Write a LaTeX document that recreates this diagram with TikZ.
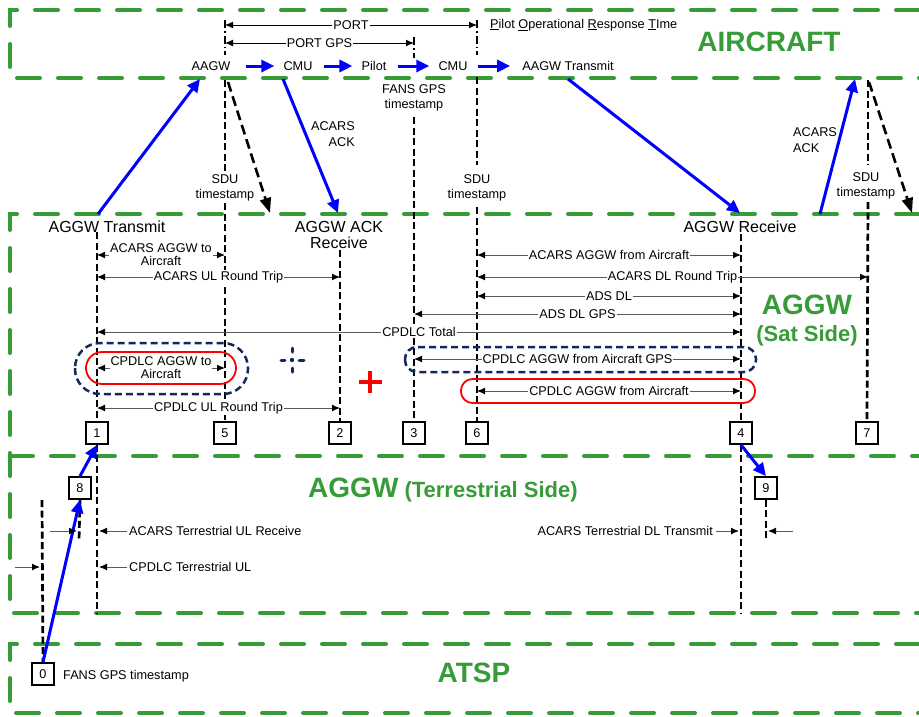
\documentclass[tikz,border=0pt]{standalone}
\usepackage{fontspec}
\setmainfont{Liberation Sans}
\usetikzlibrary{arrows.meta}
\definecolor{grn}{RGB}{55,155,55}
\definecolor{navy}{RGB}{20,40,95}
\begin{document}
\begin{tikzpicture}[x=1pt,y=-1pt,
  region/.style={draw=grn, line width=4pt, line cap=round, dash pattern=on 23pt off 18pt},
  tl/.style={draw=black, line width=2.7pt, dash pattern=on 7pt off 3.5pt},
  tlad/.style={draw=black, line width=2.7pt, dash pattern=on 8pt off 3pt on 1.5pt off 3pt},
  barrow/.style={draw=blue, line width=3pt, -{Triangle[length=13pt,width=12pt]}},
  darrow/.style={draw=black, line width=2.6pt, dash pattern=on 10pt off 5pt, -{Triangle[length=15pt,width=11pt]}},
  meas/.style={draw=black!65, line width=1pt, {Latex[length=8pt,width=7pt,black]}-{Latex[length=8pt,width=7pt,black]}},
  sarr/.style={draw=black!65, line width=1pt, -{Latex[length=8pt,width=7pt,black]}},
  lbl/.style={font=\fontsize{12.7}{13}\selectfont, inner sep=0pt},
  lbl2/.style={font=\fontsize{12.7}{15.5}\selectfont, inner sep=0pt, align=center},
  mlbl/.style={font=\fontsize{12.7}{13}\selectfont, fill=white, inner sep=1pt, align=center},
  mid/.style={font=\fontsize{16}{16}\selectfont, inner sep=0pt, align=center},
  numbox/.style={draw, line width=1.8pt, minimum size=22pt, inner sep=0pt, fill=white, font=\fontsize{12.7}{13}\selectfont},
  big/.style={text=grn, font=\bfseries\fontsize{28}{30}\selectfont, inner sep=0pt},
  bigs/.style={text=grn, font=\bfseries\fontsize{22}{24}\selectfont, inner sep=0pt},
  pillb/.style={draw=navy, line width=2.5pt, dash pattern=on 7pt off 4pt},
  pillr/.style={draw=red, line width=1.8pt}
]
\useasboundingbox (0,0) rectangle (919,716);

% ---- regions
\draw[region] (919,10) -- (10,10) -- (10,78) -- (919,78);
\draw[region] (919,214) -- (10,214) -- (10,613) -- (919,613);
\draw[region] (10,456) -- (919,456);
\draw[region] (919,644) -- (10,644) -- (10,713) -- (919,713);

% ---- region titles
\node[big] (aircraft) at (769,42) {AIRCRAFT};
\node[big] (aggwsat) at (807,305) {AGGW};
\node[bigs] (satside) at (807,336) {(Sat Side)};
\node[big] (aggwterr) at (443,490) {AGGW\fontsize{22}{24}\selectfont{} (Terrestrial Side)};
\node[big] (atsp) at (474,673) {ATSP};

% ---- timeline x positions
\coordinate (x1) at (97,0);
\coordinate (xA) at (225,0);
\coordinate (x2) at (340,0);
\coordinate (xB) at (414,0);
\coordinate (xC) at (477,0);
\coordinate (x4) at (741,0);
\coordinate (x7) at (868,0);

% ---- numbered boxes
\node[numbox] (b1) at (97,433) {1};
\node[numbox] (b5) at (225,433) {5};
\node[numbox] (b2) at (340,433) {2};
\node[numbox] (b3) at (414,433) {3};
\node[numbox] (b6) at (477,433) {6};
\node[numbox] (b4) at (741,433) {4};
\node[numbox] (b7) at (867,433) {7};
\node[numbox] (b8) at (80,488) {8};
\node[numbox] (b9) at (766,488) {9};
\node[numbox] (b0) at (43,674) {0};

% ---- timelines
\draw[tl] (97,232) -- (b1.north);
\draw[tl] (b1.south) -- (97,613);
\draw[tlad] (225,20) -- (225,55);
\draw[tl] (225,80) -- (225,172);
\draw[tl] (225,203) -- (b5.north);
\draw[tl] (340,250) -- (b2.north);
\draw[tlad] (414,37) -- (414,58);
\draw[tl] (414,117) -- (b3.north);
\draw[tlad] (477,20) -- (477,55);
\draw[tl] (477,77) -- (477,165);
\draw[tl] (477,207) -- (b6.north);
\draw[tl] (741,234) -- (b4.north);
\draw[tl] (b4.south) -- (741,613);
\draw[tl] (868,80) -- (868,165);
\draw[tl] (868,202) -- (b7.north);
\draw[tl] (42,500) -- (b0.north);
\draw[tl] (b8.south) -- (79,541);
\draw[tl] (b9.south) -- (766,541);

% ---- aircraft row
\node[lbl] (aagw) at (211,66) {AAGW};
\node[lbl] (cmu1) at (298,66) {CMU};
\node[lbl] (pilot) at (374,66) {Pilot};
\node[lbl] (cmu2) at (453,66) {CMU};
\node[lbl] (aagwtx) at (568,66) {AAGW Transmit};
\draw[barrow] ([xshift=15pt]aagw.east) -- ([xshift=-9pt]cmu1.west);
\draw[barrow] ([xshift=11pt]cmu1.east) -- ([xshift=-9pt]pilot.west);
\draw[barrow] ([xshift=11pt]pilot.east) -- ([xshift=-9pt]cmu2.west);
\draw[barrow] ([xshift=10pt]cmu2.east) -- ([xshift=-12pt]aagwtx.west);

% ---- PORT arrows
\draw[meas, draw=black] (xA |- 0,25) -- node[mlbl]{PORT} (xC |- 0,25);
\draw[meas, draw=black] (xA |- 0,43) -- node[mlbl]{PORT GPS} (xB |- 0,43);
\node[lbl, anchor=west] (port) at (490,25) {\underline{P}ilot \underline{O}perational \underline{R}esponse \underline{T}Ime};

% ---- timeline labels
\node[lbl2] (fansgps) at (414,98) {FANS GPS\\timestamp};
\node[lbl2] (sdu1) at (225,188) {SDU\\timestamp};
\node[lbl2] (sdu2) at (477,188) {SDU\\timestamp};
\node[lbl2] (sdu3) at (866,186) {SDU\\timestamp};
\node[lbl2, align=right, anchor=east] (ack1) at (355,134) {ACARS\\ACK};
\node[lbl2, align=left, anchor=west] (ack2) at (793,140) {ACARS\\ACK};

\node[mid] (aggwtx) at (107,227) {AGGW Transmit};
\node[mid] (aggwack) at (339,235) {AGGW ACK\\Receive};
\node[mid] (aggwrx) at (740,227) {AGGW Receive};

% ---- blue and dashed transfer arrows
\coordinate (tx1) at (98,214);
\coordinate (rx1) at (200,79);
\coordinate (ck1) at (283,79);
\coordinate (ck2) at (338,213);
\coordinate (at1) at (568,79);
\coordinate (at2) at (740,213);
\coordinate (ak1) at (820,214);
\coordinate (ak2) at (855,79);
\draw[barrow] (tx1) -- (rx1);
\draw[barrow] (ck1) -- (ck2);
\draw[barrow] (at1) -- (at2);
\draw[barrow] (ak1) -- (ak2);
\coordinate (dA1) at (228,82);
\coordinate (dA2) at (270,213);
\coordinate (d71) at (869,82);
\coordinate (d72) at (912,213);
\draw[darrow] (dA1) -- (dA2);
\draw[darrow] (d71) -- (d72);

% ---- pills
\draw[pillb, rounded corners=25pt] (75,343) rectangle (248,394);
\draw[pillb, rounded corners=12pt] (405,347) rectangle (756,372);
\draw[pillr, rounded corners=16pt] (86,352) rectangle (236,384);
\draw[pillr, rounded corners=11.5pt] (461,379) rectangle (755,403);

% ---- measurement arrows (sat side)
\draw[meas] (x1 |- 0,255) -- node[mlbl]{ACARS AGGW to\\Aircraft} (xA |- 0,255);
\draw[meas] (x1 |- 0,277) -- node[mlbl]{ACARS UL Round Trip} (x2 |- 0,277);
\draw[meas] (xC |- 0,255) -- node[mlbl]{ACARS AGGW from Aircraft} (x4 |- 0,255);
\draw[meas] (xC |- 0,277) -- node[mlbl]{ACARS DL Round Trip} (x7 |- 0,277);
\draw[meas] (xC |- 0,296) -- node[mlbl]{ADS DL} (x4 |- 0,296);
\draw[meas] (xB |- 0,314) -- node[mlbl]{ADS DL GPS} (x4 |- 0,314);
\draw[meas] (x1 |- 0,332) -- node[mlbl]{CPDLC Total} (x4 |- 0,332);
\draw[meas] (x1 |- 0,368) -- node[mlbl]{CPDLC AGGW to\\Aircraft} (xA |- 0,368);
\draw[meas] (xB |- 0,359) -- node[mlbl]{CPDLC AGGW from Aircraft GPS} (x4 |- 0,359);
\draw[meas] (xC |- 0,391) -- node[mlbl]{CPDLC AGGW from Aircraft} (x4 |- 0,391);
\draw[meas] (x1 |- 0,408) -- node[mlbl]{CPDLC UL Round Trip} (x2 |- 0,408);

% ---- symbols
\draw[navy, line width=3pt, line cap=round] (281,360) -- (285,360) (299,360) -- (304,360) (292,348) -- (292,352) (292,368) -- (292,372);
\fill[navy] (292,360) circle[radius=2.2pt];
\draw[red, line width=3.5pt] (359,382) -- (382,382) (370,371) -- (370,393);

% ---- terrestrial side
\draw[barrow] (b0.north) -- (b8.south);
\draw[barrow] (b8.north) -- (b1.south);
\draw[barrow] (b4.south) -- (b9.north);
\node[lbl, anchor=west] (acrx) at (129,531) {ACARS Terrestrial UL Receive};
\node[lbl, anchor=west] (cpul) at (129,567) {CPDLC Terrestrial UL};
\node[lbl, anchor=east] (acdl) at (713,531) {ACARS Terrestrial DL Transmit};
\draw[sarr] ([xshift=-2pt]acrx.west) -- (99,531);
\draw[sarr] ([xshift=-2pt]cpul.west) -- (99,567);
\draw[sarr] ([xshift=3pt]acdl.east) -- (739,531);
\coordinate (fa1) at (15,567);
\coordinate (fa2) at (40,567);
\coordinate (fb1) at (50,531);
\coordinate (fb2) at (77,531);
\coordinate (fc1) at (793,531);
\coordinate (fc2) at (768,531);
\draw[sarr] (fa1) -- (fa2);
\draw[sarr] (fb1) -- (fb2);
\draw[sarr] (fc1) -- (fc2);
\node[lbl, anchor=west] (fansgps0) at (63,676) {FANS GPS timestamp};
\end{tikzpicture}
\end{document}
